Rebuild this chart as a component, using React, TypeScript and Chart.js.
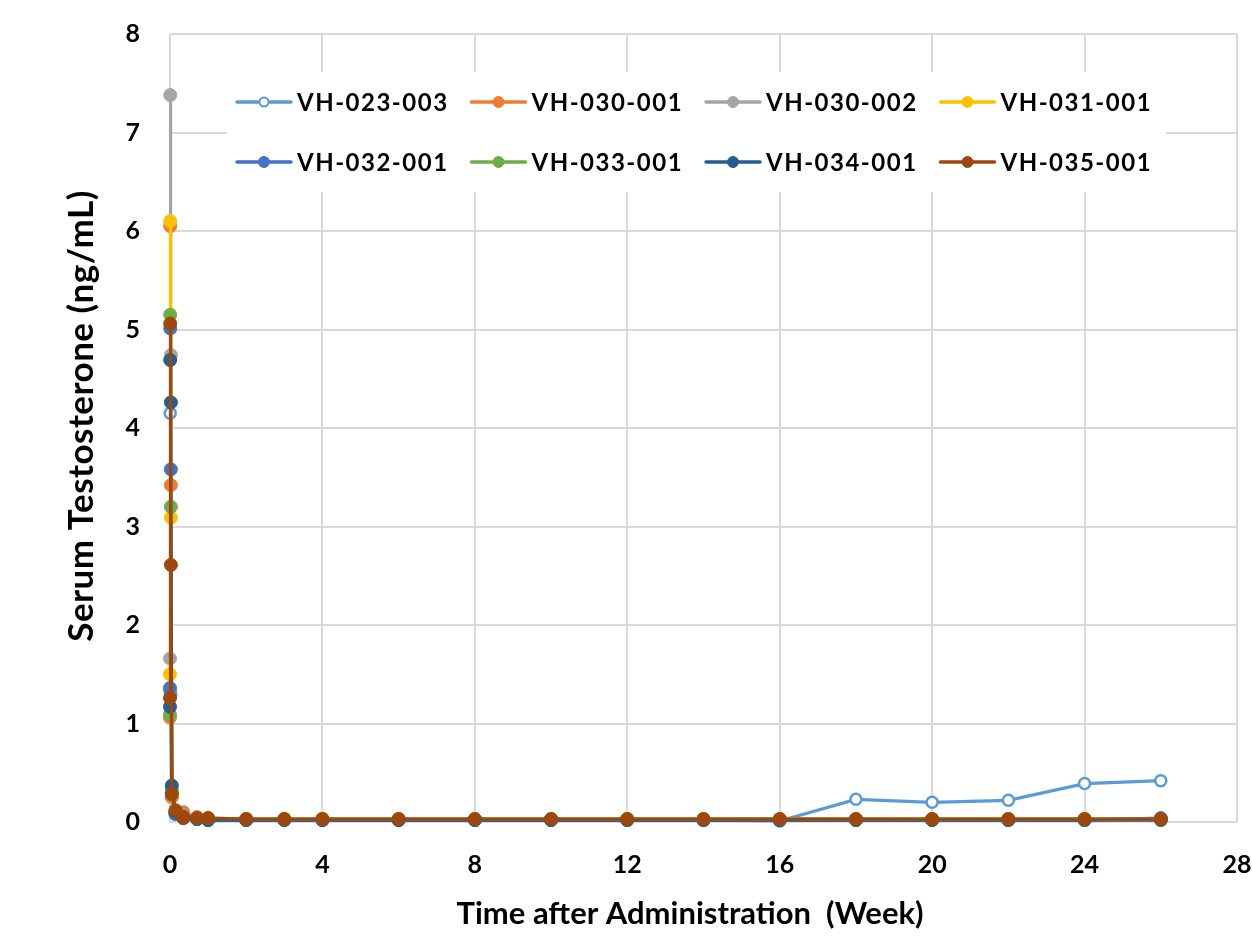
import React, { useEffect, useRef } from 'react';
import { Chart, registerables } from 'chart.js';

Chart.register(...registerables);

// Time points (weeks after administration)
const WEEKS = [0, 0.006, 0.024, 0.048, 0.143, 0.35, 0.71, 1, 2, 3, 4, 6, 8, 10, 12, 14, 16, 18, 20, 22, 24, 26];

const LABELS = ['VH-023-003', 'VH-030-001', 'VH-030-002', 'VH-031-001', 'VH-032-001', 'VH-033-001', 'VH-034-001', 'VH-035-001'];

const VH_023_003 = [1.33, 4.15, 1.3, 0.3, 0.1, 0.05, 0.03, 0.02, 0.02, 0.02, 0.02, 0.02, 0.02, 0.02, 0.02, 0.02, 0.01, 0.23, 0.2, 0.22, 0.39, 0.42];
const VH_030_001 = [1.06, 6.05, 3.42, 0.25, 0.1, 0.1, 0.05, 0.04, 0.03, 0.03, 0.03, 0.03, 0.03, 0.03, 0.03, 0.03, 0.03, 0.03, 0.03, 0.03, 0.03, 0.03];
const VH_030_002 = [1.66, 7.38, 4.74, 0.3, 0.1, 0.05, 0.04, 0.03, 0.03, 0.03, 0.03, 0.03, 0.03, 0.03, 0.03, 0.03, 0.03, 0.03, 0.03, 0.03, 0.03, 0.03];
const VH_031_001 = [1.5, 6.1, 3.09, 0.28, 0.08, 0.05, 0.03, 0.03, 0.03, 0.03, 0.03, 0.03, 0.03, 0.03, 0.03, 0.03, 0.03, 0.03, 0.03, 0.03, 0.03, 0.03];
const VH_032_001 = [1.36, 5.01, 3.58, 0.3, 0.08, 0.04, 0.03, 0.02, 0.02, 0.02, 0.02, 0.02, 0.02, 0.02, 0.02, 0.02, 0.02, 0.02, 0.02, 0.02, 0.02, 0.04];
const VH_033_001 = [1.09, 5.15, 3.2, 0.32, 0.1, 0.05, 0.03, 0.02, 0.03, 0.03, 0.03, 0.03, 0.03, 0.03, 0.03, 0.03, 0.03, 0.03, 0.03, 0.03, 0.03, 0.03];
const VH_034_001 = [1.17, 4.69, 4.26, 0.37, 0.1, 0.05, 0.03, 0.02, 0.02, 0.02, 0.02, 0.02, 0.02, 0.02, 0.02, 0.02, 0.02, 0.02, 0.02, 0.02, 0.02, 0.02];
const VH_035_001 = [1.26, 5.06, 2.61, 0.28, 0.12, 0.04, 0.04, 0.04, 0.03, 0.03, 0.03, 0.03, 0.03, 0.03, 0.03, 0.03, 0.03, 0.03, 0.03, 0.03, 0.03, 0.03];

const SERIES = [VH_023_003, VH_030_001, VH_030_002, VH_031_001, VH_032_001, VH_033_001, VH_034_001, VH_035_001];
const COLORS = ['#5B9BD5', '#ED7D31', '#A5A5A5', '#FFC000', '#4472C4', '#70AD47', '#255E91', '#9E480E'];
const HOLLOW = [true, false, false, false, false, false, false, false];

const X_TICKS = [0, 4, 8, 12, 16, 20, 24, 28];
const Y_TICKS = [0, 1, 2, 3, 4, 5, 6, 7, 8];

const X_TITLE = 'Time after Administration  (Week)';
const Y_TITLE = 'Serum Testosterone (ng/mL)';

const FONT = "Lato, 'Liberation Sans', sans-serif";

const insideLegend = {
  id: 'insideLegend',
  beforeDatasetsDraw(chart: any) {
    const { ctx, chartArea } = chart;
    const boxL = chartArea.left + 57;
    const boxT = chartArea.top + 38;
    ctx.save();
    ctx.fillStyle = '#ffffff';
    ctx.fillRect(boxL, boxT, 939, 120);
    const rows = [boxT + 30, boxT + 90];
    const cols = [boxL + 10, boxL + 244.5, boxL + 479, boxL + 713.5];
    chart.data.datasets.forEach((ds: any, i: number) => {
      const x0 = cols[i % 4];
      const y = rows[Math.floor(i / 4)];
      ctx.strokeStyle = ds.borderColor;
      ctx.lineWidth = 3.5;
      ctx.lineCap = 'round';
      ctx.beginPath();
      ctx.moveTo(x0, y);
      ctx.lineTo(x0 + 54, y);
      ctx.stroke();
      ctx.beginPath();
      ctx.arc(x0 + 27, y, HOLLOW[i] ? 4.5 : 5.5, 0, Math.PI * 2);
      ctx.fillStyle = ds.pointBackgroundColor;
      ctx.fill();
      ctx.lineWidth = HOLLOW[i] ? 2 : 1;
      ctx.strokeStyle = ds.pointBorderColor;
      ctx.stroke();
      ctx.fillStyle = '#000000';
      ctx.font = `bold 24px ${FONT}`;
      (ctx as any).letterSpacing = '1.5px';
      ctx.textAlign = 'left';
      ctx.textBaseline = 'middle';
      ctx.fillText(ds.label, x0 + 60, y + 1);
    });
    ctx.restore();
  },
};

const axisTitles = {
  id: 'axisTitles',
  afterDraw(chart: any) {
    const { ctx, chartArea } = chart;
    ctx.save();
    ctx.fillStyle = '#000000';
    ctx.textAlign = 'center';
    ctx.textBaseline = 'alphabetic';
    ctx.font = `bold 31px ${FONT}`;
    ctx.fillText(X_TITLE, chartArea.left + 520, chartArea.bottom + 102);
    ctx.translate(chartArea.left - 77, chartArea.top + 382);
    ctx.rotate(-Math.PI / 2);
    ctx.font = `bold 35px ${FONT}`;
    (ctx as any).letterSpacing = '0.5px';
    ctx.fillText(Y_TITLE, 0, 0);
    ctx.restore();
  },
};

export default function App() {
  const ref = useRef<HTMLCanvasElement>(null);
  useEffect(() => {
    document.body.style.margin = '0';
    const datasets = SERIES.map((vals, i) => ({
      label: LABELS[i],
      data: WEEKS.map((w, j) => ({ x: w, y: vals[j] })),
      borderColor: COLORS[i],
      backgroundColor: COLORS[i],
      pointBackgroundColor: HOLLOW[i] ? '#ffffff' : COLORS[i],
      pointBorderColor: COLORS[i],
      pointBorderWidth: HOLLOW[i] ? 2.5 : 1,
      pointRadius: HOLLOW[i] ? 5.5 : 6.5,
      borderWidth: 3.2,
      tension: 0,
      clip: false as any,
      order: SERIES.length - 1 - i,
    }));
    const chart = new Chart(ref.current!, {
      type: 'line',
      data: { datasets },
      plugins: [insideLegend, axisTitles],
      options: {
        animation: false,
        responsive: false,
        devicePixelRatio: 1,
        layout: { padding: { left: 0, top: 34, right: 15, bottom: 0 } },
        plugins: { legend: { display: false }, tooltip: { enabled: false } },
        scales: {
          x: {
            type: 'linear',
            min: 0,
            max: 28,
            afterBuildTicks: (s: any) => { s.ticks = X_TICKS.map((v) => ({ value: v })); },
            afterFit: (s: any) => { s.height = 115; s.paddingLeft = 0; s.paddingRight = 0; },
            grid: { color: '#D9D9D9', lineWidth: 2, drawTicks: false },
            border: { display: false },
            ticks: { color: '#000', font: { family: FONT, size: 25, weight: 'bold' }, padding: 28 },
          },
          y: {
            type: 'linear',
            min: 0,
            max: 8,
            afterBuildTicks: (s: any) => { s.ticks = Y_TICKS.map((v) => ({ value: v })); },
            afterFit: (s: any) => { s.width = 170; s.paddingTop = 0; s.paddingBottom = 0; },
            grid: { color: '#D9D9D9', lineWidth: 2, drawTicks: false },
            border: { display: false },
            ticks: { color: '#000', font: { family: FONT, size: 25, weight: 'bold' }, padding: 30 },
          },
        },
      } as any,
    });
    return () => chart.destroy();
  }, []);
  return (
    <div style={{ width: 1252, height: 937 }}>
      <canvas ref={ref} width={1252} height={937} style={{ display: 'block' }} />
    </div>
  );
}
